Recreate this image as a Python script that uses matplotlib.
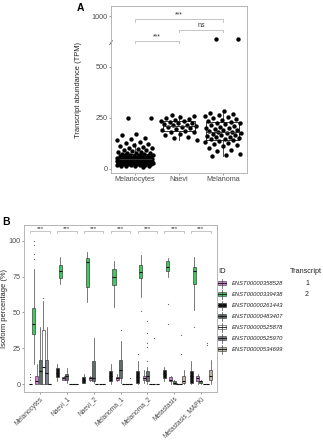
import numpy as np
import matplotlib
matplotlib.use('Agg')
import matplotlib.pyplot as plt
from matplotlib.patches import Rectangle

plt.rcParams['font.family'] = ['Liberation Sans', 'DejaVu Sans']

# ---- panel A data (TPM) ----
a_groups = ['Melanocytes', 'Naevi', 'Melanoma']
melanocytes = [250, 250, 170, 166, 150, 145, 140, 132, 128, 122, 118, 112, 108, 104,
               100, 96, 92, 90, 86, 84, 82, 80, 78, 76, 74, 72, 70, 70, 68, 66, 65,
               64, 62, 61, 60, 60, 58, 57, 56, 55, 54, 53, 52, 51, 50, 50, 49, 48,
               48, 47, 46, 46, 45, 45, 44, 44, 43, 43, 42, 42, 41, 41, 40, 40, 39,
               38, 38, 37, 37, 36, 36, 35, 35, 34, 34, 33, 33, 32, 32, 31, 30, 30,
               29, 29, 28, 28, 27, 26, 26, 25, 24, 23, 22, 21, 20, 19, 18, 16, 15,
               14, 12, 10]
naevi = [265, 258, 252, 248, 245, 240, 236, 232, 228, 225, 222, 218, 215, 212, 210,
         207, 204, 200, 196, 190, 186, 182, 178, 172, 165, 158, 150, 142]
melanoma = [670, 670, 282, 275, 268, 262, 258, 252, 248, 242, 238, 234, 230, 226,
            222, 218, 214, 210, 206, 202, 198, 195, 192, 188, 185, 182, 180, 177,
            174, 170, 167, 164, 160, 157, 154, 150, 147, 144, 140, 136, 132, 128,
            124, 118, 110, 100, 92, 85, 75, 68, 65]
a_values = [melanocytes, naevi, melanoma]
a_yticks = [0, 250, 500, 1000]
a_pairs = [(1, 2, '***'), (2, 3, 'ns'), (1, 3, '***')]

# ---- panel B data (isoform %) ----
b_groups = ['Melanocytes', 'Naevi_1', 'Naevi_2', 'Melanoma_1', 'Melanoma_2',
            'Metastasis', 'Metastasis_MAPKi']
# transcripts in dodge (alphabetical) order
b_ids = ['ENST00000261443', 'ENST00000339438', 'ENST00000358528', 'ENST00000483407',
         'ENST00000525878', 'ENST00000525970', 'ENST00000534699']
b_colors = ['#111111', '#3DC95C', '#D77FD8', '#5E6F69', '#FFFFFF', '#7E8090', '#BFB6A8']
# rows = transcripts, cols = groups
b_lo = [[0, 2, 1, 0, 0, 2, 0],
        [14, 70, 57, 54, 61, 75, 52],
        [0, 3, 2, 2, 1, 0, 0],
        [0, 1, 1, 1, 0, 0, 0],
        [0, 0, 0, 0, 0, 0, 0],
        [0, 0, 0, 0, 0, 0, 0],
        [0, 0, 0, 0, 0, 0, 0]]
b_q1 = [[0, 5, 1, 2, 1, 4, 1],
        [35, 74, 68, 69, 74, 79, 70],
        [0, 3, 3, 3, 3, 2, 2],
        [0, 3, 2, 4, 2, 0, 1],
        [0, 0, 0, 0, 0, 0, 0],
        [0, 0, 0, 0, 0, 0, 0],
        [0, 0, 0, 0, 0, 1, 3]]
b_med = [[0, 8, 3, 6, 5, 7, 6],
         [42, 79, 85, 75, 78, 82, 79],
         [2, 4, 4, 4, 4, 3, 4],
         [9, 6, 4, 10, 6, 1, 2],
         [12, 0, 0, 0, 0, 0, 0],
         [8, 0, 0, 0, 0, 0, 0],
         [0, 0, 0, 0, 0, 2, 6]]
b_q3 = [[0, 11, 5, 9, 9, 10, 9],
        [53, 83, 88, 80, 83, 86, 82],
        [6, 5, 5, 5, 6, 5, 6],
        [17, 7, 16, 17, 9, 2, 2],
        [38, 0, 0, 0, 0, 0, 0],
        [17, 0, 0, 0, 0, 0, 0],
        [0, 0, 0, 0, 0, 6, 10]]
b_hi = [[0, 14, 7, 14, 16, 12, 16],
        [80, 89, 92, 86, 90, 88, 89],
        [14, 6, 6, 7, 10, 6, 7],
        [40, 11, 32, 30, 12, 3, 3],
        [58, 0, 0, 0, 0, 1, 0],
        [40, 0, 0, 0, 0, 0, 0],
        [0, 0, 0, 0, 0, 10, 17]]
# outliers keyed by (transcript row, group col)
b_fliers = {(0, 0): [3, 5, 7], (1, 0): [87, 91, 97, 100], (4, 0): [60],
            (3, 3): [38], (6, 3): [4], (0, 4): [21], (1, 4): [51],
            (3, 4): [16, 26, 29, 36, 44], (5, 4): [32], (1, 5): [42, 56],
            (5, 5): [21, 34], (1, 6): [40], (5, 6): [27, 29]}
b_yticks = [0, 25, 50, 75, 100]
legend_order = [2, 1, 0, 3, 4, 5, 6]
transcript_num = {2: '1', 1: '2'}

TXT = '#4D4D4D'
FRAME = '#AAAAAA'

fig = plt.figure(figsize=(3.23, 4.40), dpi=100)

# ---------------- panel A ----------------
BRK = 615
K = 0.342


def fwd(y):
    y = np.asarray(y, dtype=float)
    return np.where(y <= BRK, y, BRK + (y - BRK) * K)


def inv(y):
    y = np.asarray(y, dtype=float)
    return np.where(y <= BRK, y, BRK + (y - BRK) / K)


axA = fig.add_axes([111 / 323, 1 - 173 / 440, 136 / 323, 167 / 440])
axA.set_yscale('function', functions=(fwd, inv))
axA.set_ylim(-20, 1143)
axA.set_xlim(0.45, 3.55)

for i, vals in enumerate(a_values):
    n = len(vals)
    jit = ((np.arange(n) * 0.618034 + 0.3) % 1 - 0.5) * 0.84
    axA.scatter(i + 1 + jit, vals, s=10, color='black', linewidths=0, zorder=3)
bp = axA.boxplot(a_values, positions=[1, 2, 3], widths=0.75, showfliers=False,
                 showcaps=False, patch_artist=True, zorder=2)
for b in bp['boxes']:
    b.set_facecolor('none')
    b.set_edgecolor('#333333')
    b.set_linewidth(0.7)
for w in bp['whiskers']:
    w.set_color('#333333')
    w.set_linewidth(0.6)
for m in bp['medians']:
    m.set_color('#333333')
    m.set_linewidth(0.8)
    m.set_zorder(4)

axA.set_yticks(a_yticks)
axA.set_yticklabels([str(t) for t in a_yticks])
axA.set_xticks([1, 2, 3])
axA.set_xticklabels(a_groups)
axA.tick_params(labelsize=5.2, length=1.5, width=0.5, colors='#777777', labelcolor=TXT, pad=1)
axA.set_ylabel('Transcript abundance (TPM)', fontsize=5.4, color='#222222')
axA.yaxis.set_label_coords(-0.21, 0.5)
for sp in axA.spines.values():
    sp.set_color(FRAME)
    sp.set_linewidth(0.6)

# axis break marker
brk_y = (fwd(BRK + 5) - fwd(-20)) / (fwd(1143) - fwd(-20))
axA.plot([-0.01, 0.01], [brk_y - 0.012, brk_y + 0.012], transform=axA.transAxes,
         color='#555555', lw=0.6, clip_on=False)

# significance brackets (heights in broken-axis space)
br_lin = [624, 678, 730]
for (g1, g2, lab), h in zip(a_pairs, br_lin):
    top = float(inv(h))
    tip = float(inv(h - 11))
    axA.plot([g1, g1, g2, g2], [tip, top, top, tip], color='#BBBBBB', lw=0.6, zorder=1)
    axA.text((g1 + g2) / 2, float(inv(h + 6)), lab, ha='center', va='bottom',
             fontsize=5, color='#333333')

fig.text(77 / 323, 1 - 8 / 440, 'A', fontsize=7.5, fontweight='bold', va='center')

# ---------------- panel B ----------------
axB = fig.add_axes([24 / 323, 1 - 392 / 440, 193 / 323, 167 / 440])
axB.set_xlim(0.4, 7.6)
axB.set_ylim(-5.5, 111)
slot = 0.85 / len(b_ids)
for j, tid in enumerate(b_ids):
    stats = []
    pos = []
    for g in range(len(b_groups)):
        stats.append(dict(med=b_med[j][g], q1=b_q1[j][g], q3=b_q3[j][g],
                          whislo=b_lo[j][g], whishi=b_hi[j][g],
                          fliers=b_fliers.get((j, g), [])))
        pos.append(g + 1 + (j - 3) * slot)
    axB.bxp(stats, positions=pos, widths=slot * 0.95, showcaps=False,
            patch_artist=True, manage_ticks=False,
            boxprops=dict(facecolor=b_colors[j], edgecolor='#222222', linewidth=0.4),
            whiskerprops=dict(color='#444444', linewidth=0.5),
            medianprops=dict(color='#111111', linewidth=0.8),
            flierprops=dict(marker='o', markersize=0.9, markerfacecolor='#666666',
                            markeredgecolor='none'))

for g in range(len(b_groups)):
    x1, x2 = g + 1 - 0.36, g + 1 + 0.36
    axB.plot([x1, x1, x2, x2], [105.5, 106.8, 106.8, 105.5], color='#BBBBBB', lw=0.6)
    axB.text(g + 1, 106.6, '***', ha='center', va='bottom', fontsize=4.5, color='#333333')

axB.set_yticks(b_yticks)
axB.set_yticklabels([str(t) for t in b_yticks])
axB.set_xticks(range(1, len(b_groups) + 1))
axB.set_xticklabels(b_groups, rotation=45, ha='right', rotation_mode='anchor')
axB.tick_params(labelsize=5.2, length=1.5, width=0.5, colors='#777777', labelcolor=TXT, pad=1)
axB.tick_params(axis='x', labelsize=4.8)
axB.set_ylabel('Isoform percentage (%)', fontsize=5.4, color='#222222')
axB.yaxis.set_label_coords(-0.085, 0.5)
for sp in axB.spines.values():
    sp.set_color(FRAME)
    sp.set_linewidth(0.6)

fig.text(2 / 323, 1 - 222 / 440, 'B', fontsize=7.5, fontweight='bold', va='center')

# legend (pixel coordinates in its own axes)
axL = fig.add_axes([214 / 323, 1 - 360 / 440, 109 / 323, 95 / 440])
axL.set_xlim(214, 323)
axL.set_ylim(360, 265)
axL.axis('off')
axL.text(218, 271, 'ID', fontsize=5.5, va='center', color='#222222')
axL.text(290, 271, 'Transcript', fontsize=5.2, va='center', color='#222222')
for k, j in enumerate(legend_order):
    yc = 283 + k * 11
    axL.plot([222, 222], [yc - 4.5, yc + 4.5], color='#444444', lw=0.5)
    axL.add_patch(Rectangle((218, yc - 2.3), 8, 4.6, facecolor=b_colors[j],
                            edgecolor='#333333', lw=0.4))
    axL.plot([218, 226], [yc, yc], color='#111111', lw=0.6)
    axL.text(232, yc, b_ids[j], fontsize=4.2, style='italic', va='center', color='#222222')
    if j in transcript_num:
        axL.text(307, yc, transcript_num[j], fontsize=5, va='center', ha='center',
                 color='#222222')

fig.savefig('out.png', dpi=100)
